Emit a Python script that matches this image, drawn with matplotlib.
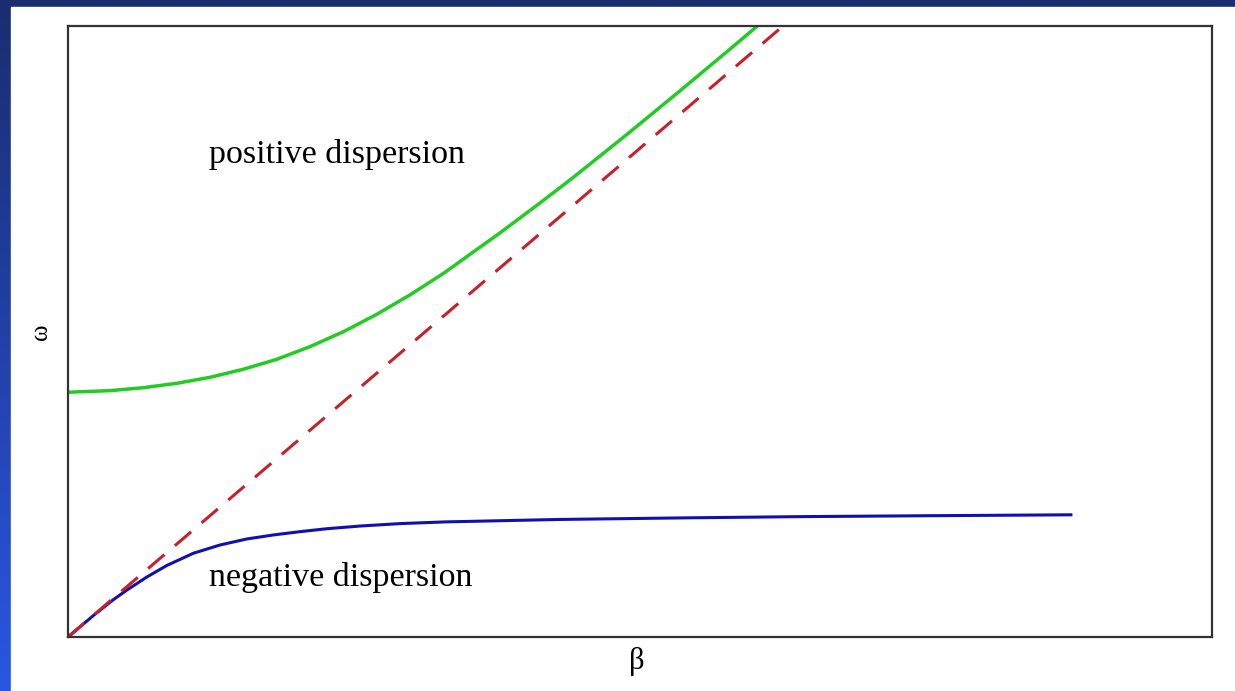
import numpy as np
import matplotlib.pyplot as plt
from matplotlib.colors import LinearSegmentedColormap

# (beta in axis units 0..10, omega 0..5)
beta_pos = [0.0, 0.367, 0.658, 0.950, 1.241, 1.532, 1.824, 2.115, 2.407, 2.698,
            2.990, 3.281, 3.573, 3.776, 4.126, 4.414, 4.886, 5.350, 5.764, 6.031, 6.136]
omega_pos = [2.003, 2.016, 2.040, 2.076, 2.125, 2.191, 2.272, 2.376, 2.498, 2.640,
             2.800, 2.975, 3.171, 3.307, 3.552, 3.759, 4.113, 4.470, 4.793, 5.004, 5.088]

beta_neg = [0.0, 0.221, 0.396, 0.513, 0.688, 0.863, 1.095, 1.329, 1.562,
            1.795, 2.028, 2.262, 2.552, 2.902, 3.30, 4.30, 5.40, 6.40, 7.60, 8.78]
omega_neg = [0.0, 0.175, 0.305, 0.383, 0.490, 0.585, 0.685, 0.753, 0.802,
             0.835, 0.862, 0.886, 0.908, 0.928, 0.942, 0.962, 0.975, 0.985, 0.993, 1.00]

beta_light = [0.0, 6.35]
omega_light = [0.0, 5.08]

labels = ["positive dispersion", "negative dispersion"]
xlabel = "\u03b2"
ylabel = "\u03c9"

W, H = 1235, 691
fig = plt.figure(figsize=(W / 100, H / 100), dpi=100)

# slide background: blue gradient with white panel
bg = fig.add_axes([0, 0, 1, 1])
cmap = LinearSegmentedColormap.from_list("slide", ["#2a56e2", "#1a2d70"])
grad = np.linspace(0, 1, 256).reshape(-1, 1)
bg.imshow(grad, cmap=cmap, aspect="auto", origin="lower", extent=[0, 1, 0, 1])
bg.add_patch(plt.Rectangle((11 / W, 0), 1 - 11 / W, 1 - 7 / H, color="white"))
bg.set_xlim(0, 1)
bg.set_ylim(0, 1)
bg.axis("off")

ax = fig.add_axes([68 / W, 1 - 637 / H, (1212 - 68) / W, (637 - 26) / H])
ax.plot(beta_pos, omega_pos, color="#22cc22", lw=2.5, solid_capstyle="butt")
ax.plot(beta_neg, omega_neg, color="#1010b0", lw=2.2, solid_capstyle="butt")
ax.plot(beta_light, omega_light, color="#c8202a", lw=2.2, dashes=(7, 4.5))
ax.set_xlim(0, 10)
ax.set_ylim(0, 5)
ax.set_xticks([])
ax.set_yticks([])
for s in ax.spines.values():
    s.set_color("#333333")
    s.set_linewidth(1.6)

ax.text(1.23, 3.95, labels[0], fontsize=24.5, family="Liberation Serif", va="center")
ax.text(1.23, 0.49, labels[1], fontsize=24.5, family="Liberation Serif", va="center")

fig.text(637 / W, 1 - 662 / H, xlabel, fontsize=22, family="Liberation Serif",
         ha="center", va="center")
fig.text(41 / W, 1 - 332 / H, ylabel, fontsize=18, family="Liberation Serif",
         ha="center", va="center", rotation=90)

fig.savefig("out.png", dpi=100)
